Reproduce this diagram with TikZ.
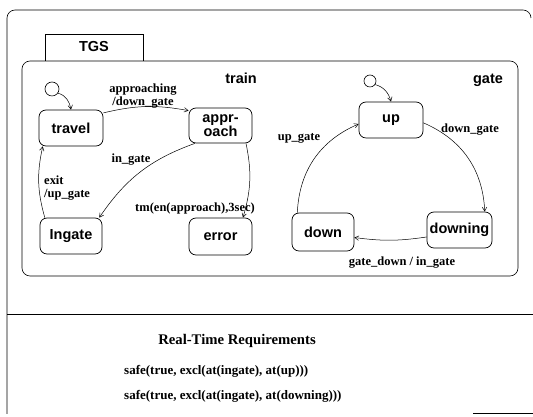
\documentclass[tikz,border=0pt]{standalone}
\usepackage{fontspec}
\setmainfont{Liberation Serif}
\newfontfamily\hvfam{Liberation Sans}
\usetikzlibrary{arrows.meta}
\begin{document}
\begin{tikzpicture}[x=1pt,y=1pt,
  statebox/.style={draw, line width=0.7pt, rounded corners=7pt, inner sep=0pt,
    minimum width=64pt, minimum height=36pt, align=center,
    font=\hvfam\bfseries\fontsize{14.5}{15}\selectfont},
  regionlbl/.style={inner sep=0pt, font=\hvfam\bfseries\fontsize{14.5}{15}\selectfont},
  lbl/.style={inner sep=0pt, font=\bfseries\fontsize{12.5}{13}\selectfont},
  reqtxt/.style={inner sep=0pt, anchor=west, font=\bfseries\fontsize{13}{14}\selectfont},
  trans/.style={line width=0.5pt, -{Straight Barb[length=4pt,width=4.5pt]}},
  initst/.style={draw, circle, line width=0.6pt, inner sep=0pt},
  frameline/.style={line width=0.6pt}
]
\useasboundingbox (0,0) rectangle (533,417);

% outer frame
\draw[frameline, rounded corners=8pt] (7,3) -- (7,407) -- (531,407) -- (531,399);
\draw[frameline] (473,4) -- (533,4);
\draw[frameline] (7,103) -- (533,103);

% TGS tab and container
\draw[frameline] (45,356) -- (45,383) -- (143,383) -- (143,356);
\node[regionlbl] (tgs) at (94,370) {TGS};
\draw[frameline, rounded corners=8pt] (22,141) rectangle (518,356);
\node[regionlbl] (trainlbl) at (241,339) {train};
\node[regionlbl] (gatelbl) at (488,337) {gate};

% train states
\node[initst, minimum size=14pt] (ti) at (52,328) {};
\node[statebox] (travel) at (71,289) {travel};
\node[statebox, minimum width=63pt, minimum height=35pt] (approach) at (220.5,291.5) {appr-\\[-1pt]oach};
\node[statebox, minimum width=62pt] (ingate) at (71,181) {Ingate};
\node[statebox, minimum width=63pt, minimum height=37pt] (error) at (220.5,180.5) {error};

\draw[trans] (ti.-35) to[out=-15,in=100] (travel.north);
\draw[trans] (travel.25) to[bend left=12] (approach.155);
\draw[trans] (approach.215) to[bend right=18] (ingate.33);
\draw[trans] (approach.-35) to[bend left=14] (error.40);
\draw[trans] (ingate.145) to[bend left=14] (travel.213);

\node[lbl, align=center] (l1) at (143,321) {approaching\\/down\_gate};
\node[lbl] (l2) at (131,257) {in\_gate};
\node[lbl, align=left, anchor=west] (l3) at (44,228.5) {exit\\/up\_gate};
\node[lbl] (l4) at (195,209) {tm(en(approach),3sec)};

% gate states
\node[initst, minimum size=12pt] (gi) at (370,336) {};
\node[statebox] (up) at (391,297) {up};
\node[statebox, minimum width=62pt, minimum height=38pt] (down) at (323,185) {down};
\node[statebox, minimum width=65pt] (downing) at (459.5,187) {downing};

\draw[trans] (gi.-35) to[out=-15,in=105] (up.north);
\draw[trans] (up.-5) to[bend left=32] (downing.36);
\draw[trans] (downing.192) to[bend left=8] (down.-10);
\draw[trans] (down.143) to[bend left=32] (up.187);

\node[lbl] (l5) at (299,279) {up\_gate};
\node[lbl] (l6) at (470,287) {down\_gate};
\node[lbl] (l7) at (402,154) {gate\_down / in\_gate};

% requirements
\node[inner sep=0pt, font=\bfseries\fontsize{14.7}{15}\selectfont] (rt) at (237,76) {Real-Time Requirements};
\node[reqtxt] (r1) at (124,46) {safe(true, excl(at(ingate), at(up)))};
\node[reqtxt] (r2) at (124,21) {safe(true, excl(at(ingate), at(downing)))};
\end{tikzpicture}
\end{document}
